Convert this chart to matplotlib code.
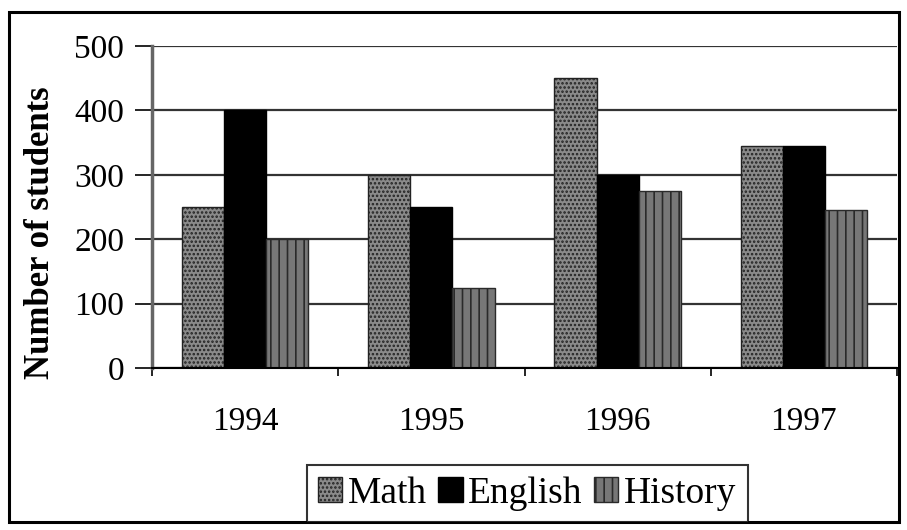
import matplotlib
matplotlib.use("Agg")
import matplotlib.pyplot as plt
import numpy as np
from matplotlib.patches import Rectangle

years = ["1994", "1995", "1996", "1997"]
math = [250, 300, 450, 345]
english = [400, 250, 300, 345]
history = [200, 125, 275, 245]

plt.rcParams["font.family"] = ["Liberation Serif", "DejaVu Serif"]
plt.rcParams["hatch.linewidth"] = 1.2

W, H = 907, 530
fig = plt.figure(figsize=(W / 100, H / 100), dpi=100)
fig.patch.set_facecolor("white")

# outer frame
fig.patches.append(Rectangle((9 / W, 8 / H), (899 - 9) / W, (518 - 8) / H,
                             transform=fig.transFigure, fill=False,
                             edgecolor="black", linewidth=2.2))

ax = fig.add_axes([152 / W, (530 - 368) / H, (897 - 152) / W, (368 - 46) / H])
x = np.arange(len(years))
w = 0.226

ax.bar(x - w, math, w, facecolor="#8a8a8a", edgecolor="#222222",
       hatch="....", linewidth=1.0, label="Math")
ax.bar(x, english, w, facecolor="black", edgecolor="black",
       linewidth=1.0, label="English")
ax.bar(x + w, history, w, facecolor="#777777", edgecolor="#2a2a2a",
       hatch="||", linewidth=1.0, label="History")

ax.set_ylim(0, 500)
ax.set_xlim(-0.5, 3.5)
ax.set_yticks([0, 100, 200, 300, 400, 500])
ax.yaxis.grid(True, color="#333333", linewidth=1.6)
ax.set_axisbelow(True)
ax.set_xticks(x)
ax.set_xticklabels(years)
ax.set_xticks(np.arange(-0.5, 4.0, 1.0), minor=True)
ax.tick_params(axis="x", which="major", length=0, pad=28, labelsize=24)
ax.tick_params(axis="x", which="minor", length=6, width=1.2, direction="out")
ax.tick_params(axis="y", length=12, width=1.2, direction="out", pad=8, labelsize=24)

for s in ["top", "right"]:
    ax.spines[s].set_visible(False)
ax.spines["left"].set_color("#666666")
ax.spines["left"].set_linewidth(2.5)
ax.spines["bottom"].set_linewidth(1.5)

ax.set_ylabel("Number of students", fontsize=25, fontweight="bold")
ax.yaxis.set_label_coords(-0.127, 0.42)

leg = fig.legend(loc="lower center", bbox_to_anchor=(527 / W, 8 / H), ncol=3,
                 fontsize=27, frameon=True, fancybox=False, edgecolor="black",
                 handlelength=0.65, handleheight=0.65, handletextpad=0.15,
                 columnspacing=0.3, borderpad=0.3, borderaxespad=0)
leg.get_frame().set_linewidth(1.5)

fig.savefig("out.png", dpi=100)
